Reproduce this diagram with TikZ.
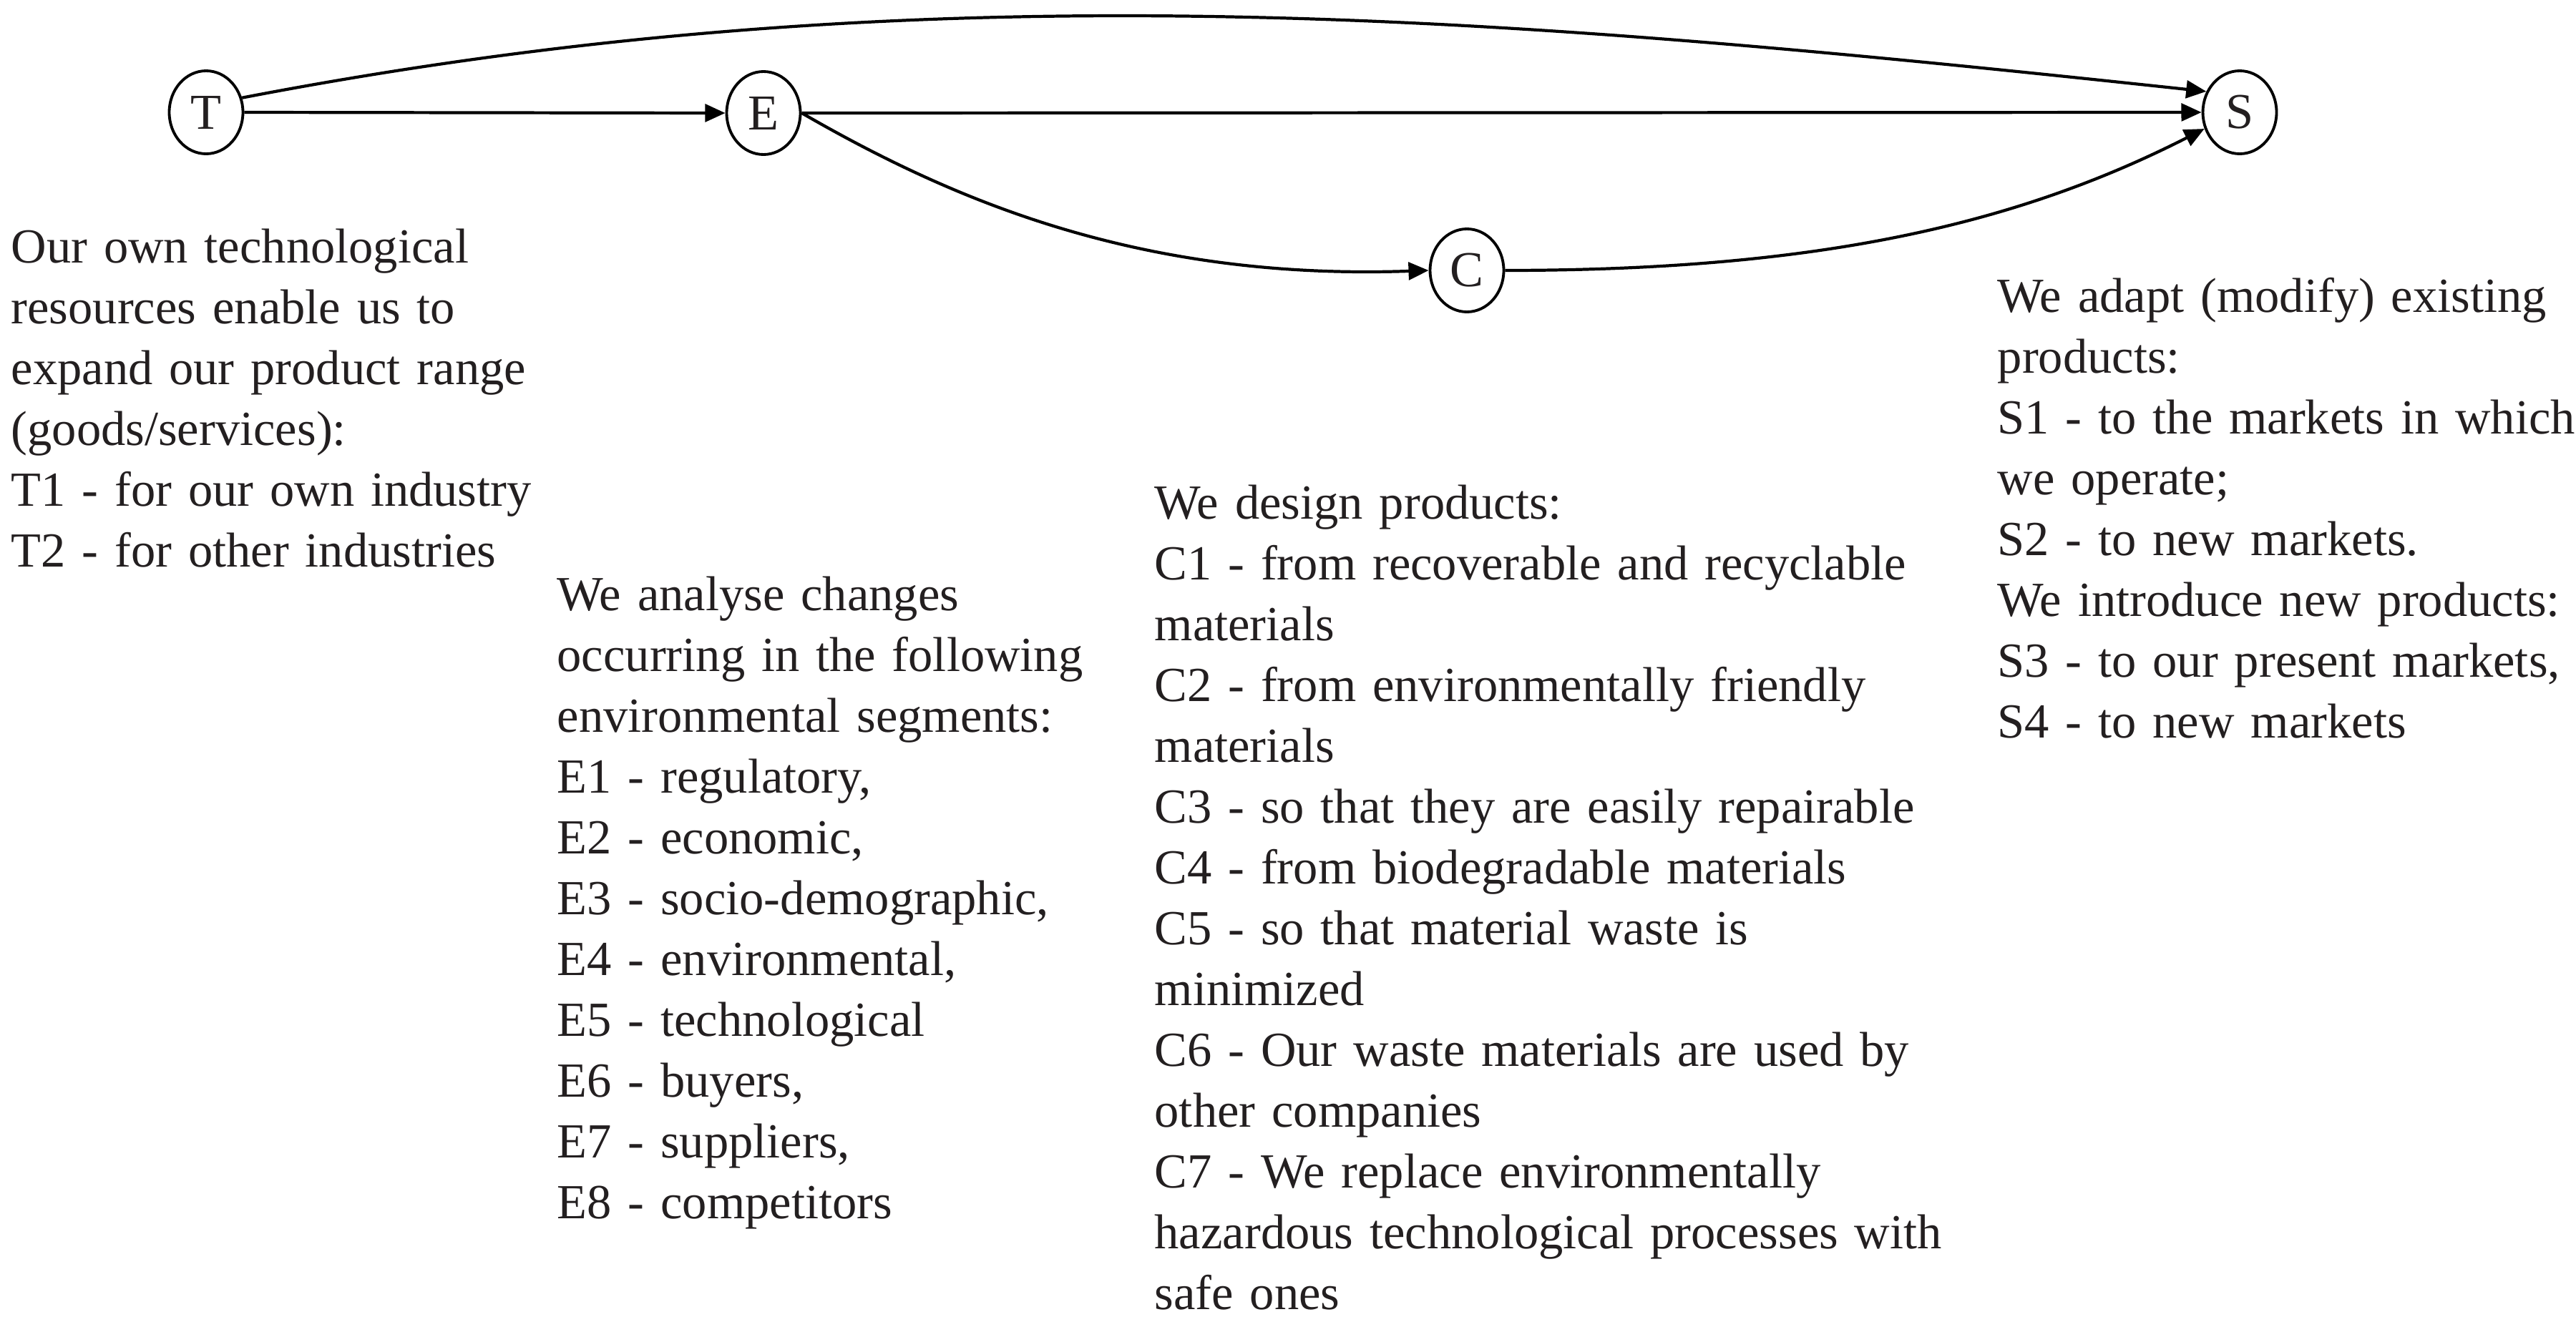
\documentclass[tikz,border=0pt]{standalone}
\usepackage{fontspec}
\setmainfont{Liberation Serif}
\usetikzlibrary{arrows.meta,shapes.geometric}
\definecolor{ink}{RGB}{35,31,32}

\begin{document}
\begin{tikzpicture}[
  state/.style={ellipse, draw, line width=1.1pt, inner sep=0pt, text=ink,
    minimum width=1.03cm, minimum height=1.16cm, font=\fontsize{20}{24}\selectfont},
  arr/.style={-{Triangle[length=8pt,width=7pt]}, line width=1.2pt},
  desc/.style={anchor=base west, inner sep=0pt, align=left, text width=#1, text=ink,
    font=\fontsize{19.5}{24.2}\selectfont}]
\useasboundingbox (0,0) rectangle (36,-18.47);
% stages
\node[state] (T) at (2.88,-1.57) {T};
\node[state] (E) at (10.67,-1.58) {E};
\node[state] (C) at (20.50,-3.78) {C};
\node[state] (S) at (31.30,-1.57) {S};
% links
\draw[arr] (T.east) -- (E.west);
\draw[arr] (E.east) -- (S.west);
\draw[arr] (T.22) .. controls +(9.6,1.85) and +(-9.8,1.05) .. (S.148);
\draw[arr] (E.east) .. controls +(-30:2.5) and +(182:4) .. (C.west);
\draw[arr] (C.east) .. controls +(4.3,0) and +(207:3) .. (S.205);
% descriptions
\node[desc=8cm] (Ttext) at (0.15,-3.67) {Our own technological\\
resources enable us to\\
expand our product range\\
(goods/services):\\
T1 - for our own industry\\
T2 - for other industries};
\node[desc=8cm] (Etext) at (7.78,-8.53) {We analyse changes\\
occurring in the following\\
environmental segments:\\
E1 - regulatory,\\
E2 - economic,\\
E3 - socio-demographic,\\
E4 - environmental,\\
E5 - technological\\
E6 - buyers,\\
E7 - suppliers,\\
E8 - competitors};
\node[desc=12cm] (Ctext) at (16.13,-7.25) {We design products:\\
C1 - from recoverable and recyclable\\
materials\\
C2 - from environmentally friendly\\
materials\\
C3 - so that they are easily repairable\\
C4 - from biodegradable materials\\
C5 - so that material waste is\\
minimized\\
C6 - Our waste materials are used by\\
other companies\\
C7 - We replace environmentally\\
hazardous technological processes with\\
safe ones};
\node[desc=9.5cm] (Stext) at (27.91,-4.36) {We adapt (modify) existing\\
products:\\
S1 - to the markets in which\\
we operate;\\
S2 - to new markets.\\
We introduce new products:\\
S3 - to our present markets,\\
S4 - to new markets};
\end{tikzpicture}
\end{document}
